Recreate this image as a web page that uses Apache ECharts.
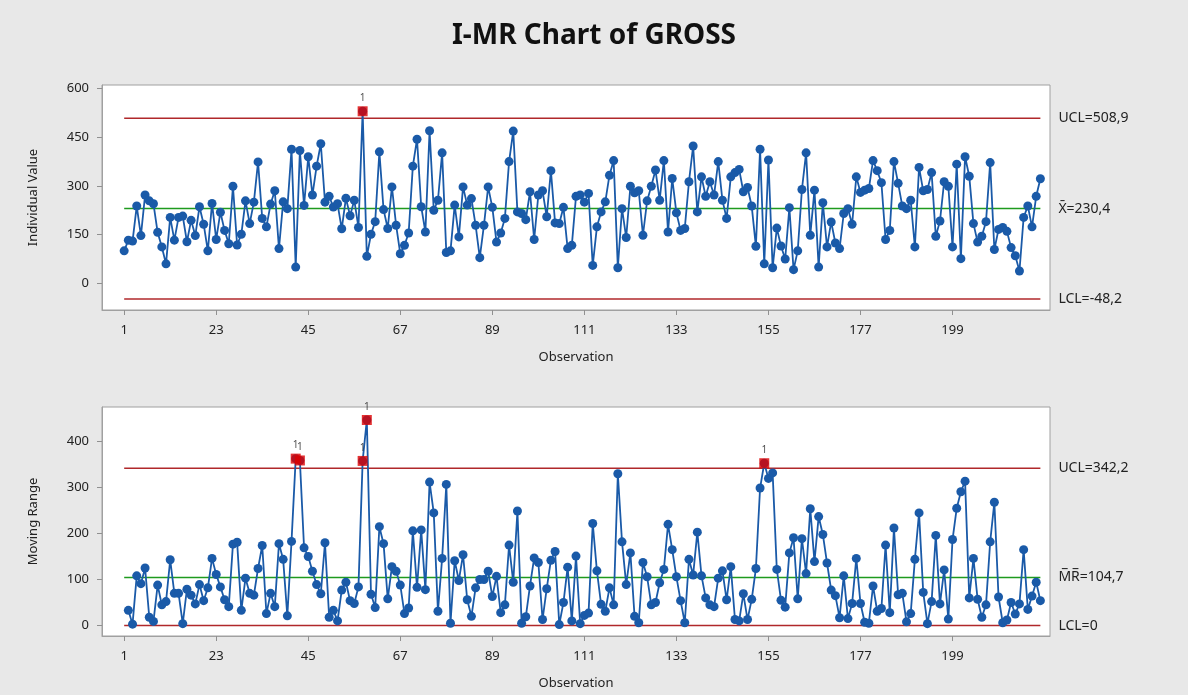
<!DOCTYPE html>
<html>
<head>
<meta charset="utf-8">
<script src="https://cdn.jsdelivr.net/npm/echarts@6/dist/echarts.min.js"></script>
<style>
  html, body { margin: 0; padding: 0; background: #e8e8e8; }
  #chart { width: 1188px; height: 695px; }
</style>
</head>
<body>
<div id="chart"></div>
<script>
// individual values, observation 1..220
const gross = [
  100, 133, 130, 238, 147, 272, 254, 245, 157, 112,
  60, 203, 133, 203, 207, 128, 194, 147, 236, 182,
  100, 246, 135, 219, 163, 122, 299, 118, 151, 254,
  184, 250, 374, 200, 174, 244, 285, 107, 251, 230,
  413, 50, 409, 240, 390, 272, 361, 430, 250, 268,
  235, 245, 168, 262, 208, 256, 172, 530, 83, 151,
  190, 405, 227, 169, 297, 179, 91, 117, 155, 361,
  444, 236, 158, 470, 225, 256, 402, 95, 100, 241,
  143, 297, 241, 261, 179, 79, 179, 297, 234, 127,
  155, 200, 375, 469, 220, 215, 196, 282, 135, 272,
  285, 205, 347, 186, 184, 234, 107, 117, 268, 272,
  250, 277, 55, 174, 220, 251, 333, 378, 48, 230,
  141, 299, 279, 285, 148, 254, 299, 349, 256, 378,
  158, 323, 217, 163, 169, 313, 423, 220, 328, 268,
  313, 272, 375, 256, 200, 328, 341, 351, 282, 295,
  238, 114, 413, 60, 380, 48, 170, 115, 75, 233,
  42, 100, 289, 402, 148, 287, 50, 248, 112, 189,
  124, 107, 215, 230, 182, 328, 280, 287, 292, 378,
  347, 310, 135, 163, 375, 308, 238, 230, 256, 112,
  357, 285, 289, 341, 145, 192, 313, 299, 112, 367,
  76, 390, 330, 184, 127, 145, 190, 372, 104, 166,
  172, 160, 110, 85, 38, 203, 238, 174, 268, 322
];

// moving ranges, observation 2..220
const movingRange = [
  33, 3, 108, 91, 125, 18, 9, 88, 45,
  52, 143, 70, 70, 4, 79, 66, 47, 89, 54,
  82, 146, 111, 84, 56, 41, 177, 181, 33, 103,
  70, 66, 124, 174, 26, 70, 41, 178, 144, 21,
  183, 363, 359, 169, 150, 118, 89, 69, 180, 18,
  33, 10, 77, 94, 54, 48, 84, 358, 447, 68,
  39, 215, 178, 58, 128, 118, 88, 26, 38, 206,
  83, 208, 78, 312, 245, 31, 146, 307, 5, 141,
  98, 154, 56, 20, 82, 100, 100, 118, 63, 107,
  28, 45, 175, 94, 249, 5, 19, 86, 147, 137,
  13, 80, 142, 161, 2, 50, 127, 10, 151, 4,
  22, 27, 222, 119, 46, 31, 82, 45, 330, 182,
  89, 158, 20, 6, 137, 106, 45, 50, 93, 122,
  220, 165, 106, 54, 6, 144, 110, 203, 108, 60,
  45, 41, 103, 119, 56, 128, 13, 10, 69, 13,
  57, 124, 299, 353, 320, 332, 122, 55, 40, 158,
  191, 58, 189, 113, 254, 139, 237, 198, 136, 77,
  65, 17, 108, 15, 48, 146, 48, 7, 5, 86,
  31, 37, 175, 28, 212, 67, 70, 8, 26, 144,
  245, 72, 4, 52, 196, 47, 121, 14, 187, 255,
  291, 314, 60, 146, 57, 18, 45, 182, 268, 62,
  6, 12, 50, 25, 47, 165, 35, 64, 94, 54
];

const xTicks = [1, 23, 45, 67, 89, 111, 133, 155, 177, 199];
const iTicks = [0, 150, 300, 450, 600];
const mrTicks = [0, 100, 200, 300, 400];

const iLimits = [508.9, 230.4, -48.2];        // UCL, CL, LCL
const iLimitLabels = ['UCL=508,9', 'X\u0304=230,4', 'LCL=-48,2'];
const mrLimits = [342.2, 104.7, 0];
const mrLimitLabels = ['UCL=342,2', 'M\u0305R\u0305=104,7', 'LCL=0'];

const FONT = 'Noto Sans';
const BLUE = '#1a5aa8';
const RED_LINE = '#b0282b';
const GREEN = '#1e9a1e';
const FLAG = '#dd0000';
const N = gross.length;

const iData = gross.map((v, i) => [i + 1, v]);
const mrData = movingRange.map((v, i) => [i + 2, v]);
const iFlags = iData.filter(d => d[1] > iLimits[0] || d[1] < iLimits[2]);
const mrFlags = mrData.filter(d => d[1] > mrLimits[0]);

function makeX(gridIndex) {
  return {
    type: 'value', gridIndex, min: -4.3, max: 222.3,
    name: 'Observation', nameLocation: 'middle', nameGap: 41,
    nameTextStyle: { fontFamily: FONT, fontSize: 13, color: '#222' },
    axisLine: { show: true, onZero: false, lineStyle: { color: '#a0a0a0' } },
    axisTick: { show: true, customValues: xTicks, length: 5, lineStyle: { color: '#909090' } },
    axisLabel: { customValues: xTicks, fontFamily: FONT, fontSize: 13, color: '#222', margin: 14 },
    splitLine: { show: false }
  };
}

function makeY(gridIndex, min, max, ticks, name) {
  return {
    type: 'value', gridIndex, min, max,
    name, nameLocation: 'middle', nameGap: 62, nameRotate: 90,
    nameTextStyle: { fontFamily: FONT, fontSize: 13, color: '#222' },
    axisLine: { show: true, onZero: false, lineStyle: { color: '#a0a0a0' } },
    axisTick: { show: true, customValues: ticks, length: 5, lineStyle: { color: '#909090' } },
    axisLabel: { customValues: ticks, fontFamily: FONT, fontSize: 13, color: '#222', margin: 13 },
    splitLine: { show: false }
  };
}

function limitLines(limits, labels, idx) {
  return limits.map((v, k) => ({
    type: 'line', xAxisIndex: idx, yAxisIndex: idx,
    data: [[1, v], [N, v]],
    symbol: 'none', silent: true, z: 1,
    lineStyle: { color: k === 1 ? GREEN : RED_LINE, width: 1.5 },
    endLabel: {
      show: true, formatter: labels[k], distance: 18,
      fontFamily: FONT, fontSize: 14, color: '#222'
    }
  }));
}

function dataSeries(data, idx) {
  return {
    type: 'line', xAxisIndex: idx, yAxisIndex: idx, data,
    symbol: 'circle', symbolSize: 9, z: 3,
    lineStyle: { color: BLUE, width: 1.8 },
    itemStyle: { color: BLUE }
  };
}

function flagSeries(data, idx) {
  return {
    type: 'scatter', xAxisIndex: idx, yAxisIndex: idx, data,
    symbol: 'rect', symbolSize: 10, z: 4,
    itemStyle: { color: FLAG },
    label: {
      show: true, position: 'top', distance: 3, formatter: '1',
      fontFamily: FONT, fontSize: 10, color: '#222'
    }
  };
}

const chart = echarts.init(document.getElementById('chart'));
chart.setOption({
  backgroundColor: '#e8e8e8',
  animation: false,
  title: {
    text: 'I-MR Chart of GROSS', left: 'center', top: 17,
    textStyle: { fontFamily: FONT, fontSize: 28, fontWeight: 'bold', color: '#111' }
  },
  grid: [
    { left: 102, top: 85, width: 948, height: 225, show: true, backgroundColor: '#fff',
      borderColor: '#a0a0a0', borderWidth: 1, outerBoundsMode: 'none' },
    { left: 102, top: 407, width: 948, height: 229, show: true, backgroundColor: '#fff',
      borderColor: '#a0a0a0', borderWidth: 1, outerBoundsMode: 'none' }
  ],
  xAxis: [makeX(0), makeX(1)],
  yAxis: [
    makeY(0, -82.3, 611, iTicks, 'Individual Value'),
    makeY(1, -22.8, 475.3, mrTicks, 'Moving Range')
  ],
  series: [
    ...limitLines(iLimits, iLimitLabels, 0),
    dataSeries(iData, 0),
    flagSeries(iFlags, 0),
    ...limitLines(mrLimits, mrLimitLabels, 1),
    dataSeries(mrData, 1),
    flagSeries(mrFlags, 1)
  ]
});
</script>
</body>
</html>
